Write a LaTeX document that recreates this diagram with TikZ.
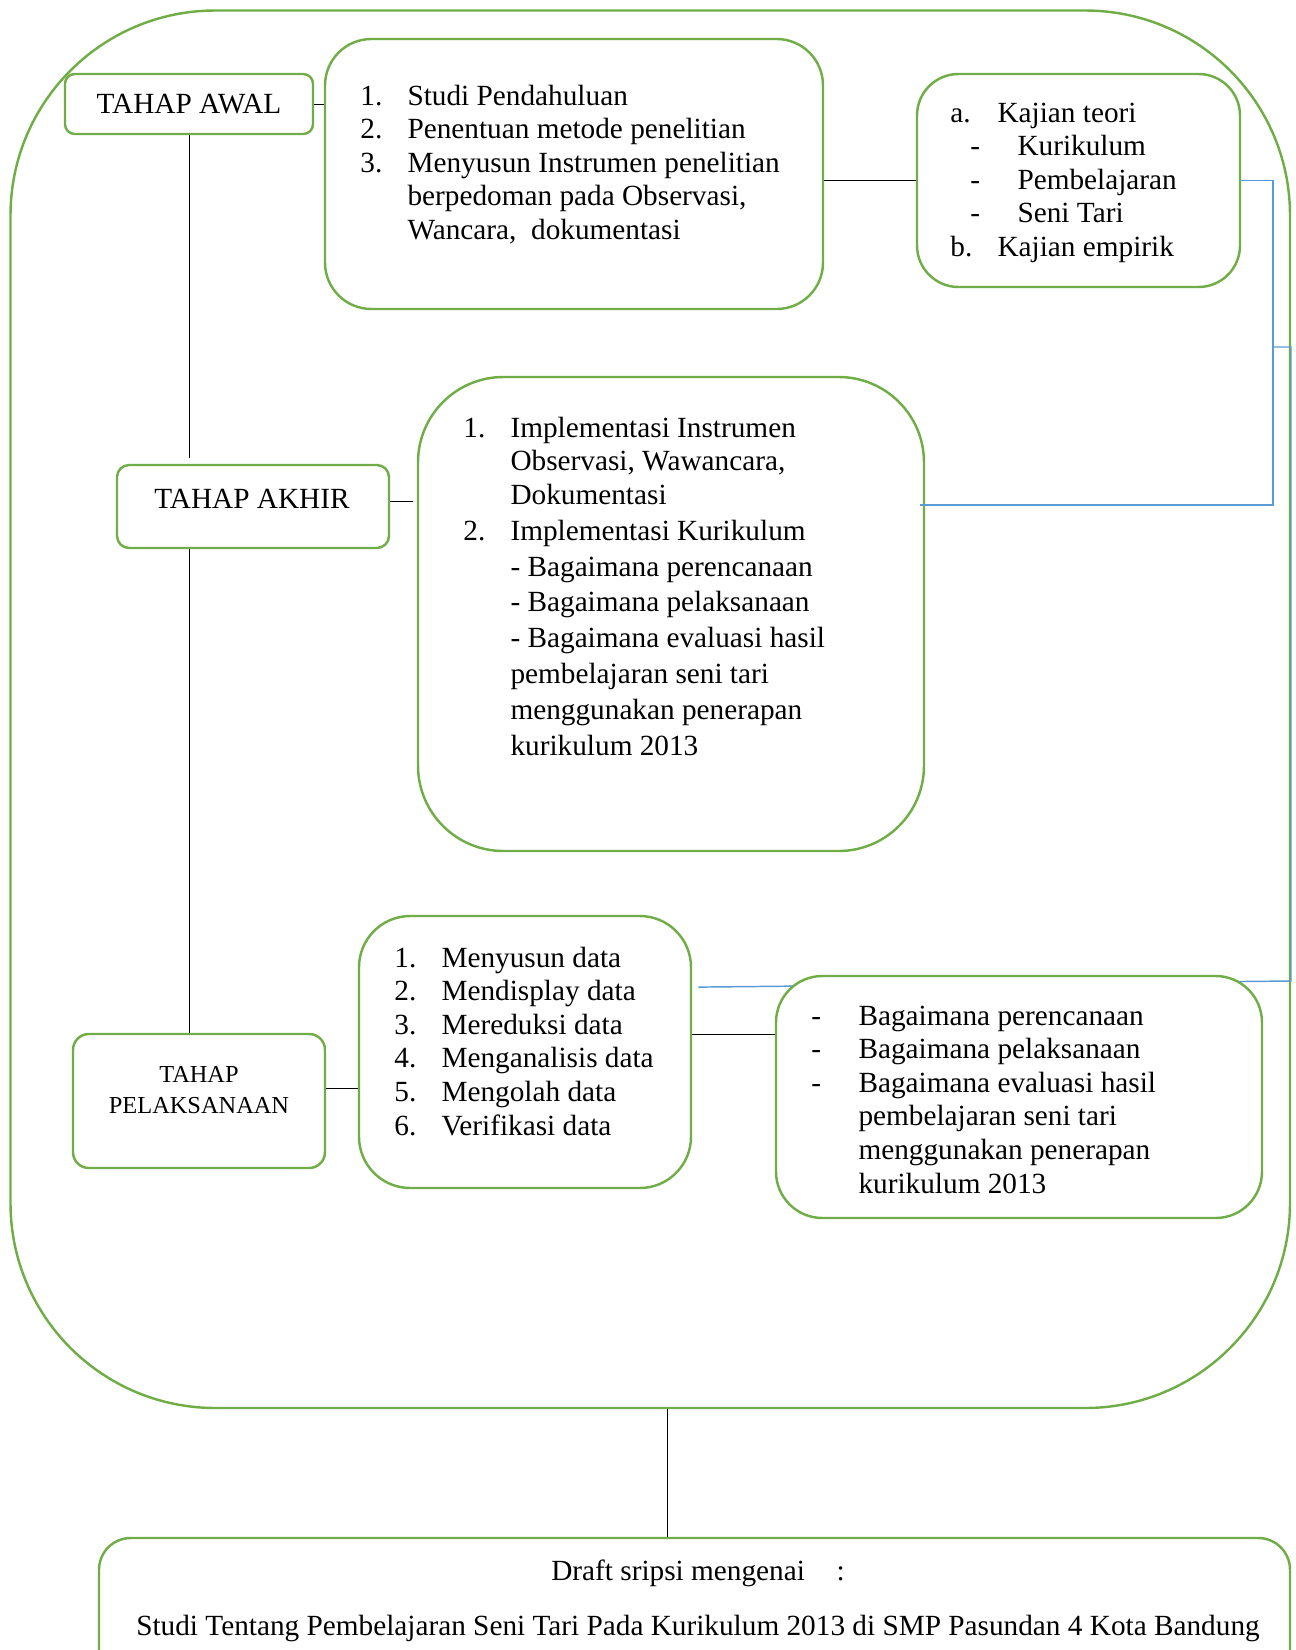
\documentclass[tikz,border=0pt]{standalone}
\usepackage{fontspec}
\setmainfont{Liberation Serif}
\usepackage{array}
\usetikzlibrary{fit}
\definecolor{hijau}{HTML}{70AD47}
\definecolor{biru}{HTML}{5B9BD5}
\newcommand{\nomor}[1]{\makebox[19.3pt][l]{#1}}

\begin{document}
\begin{tikzpicture}[x=0.41pt, y=-0.41pt,
      kotak/.style={draw=hijau, line width=1pt, fill=white, inner sep=0pt},
      isi/.style={anchor=base west, inner sep=0pt, font=\fontsize{12}{13.8}\selectfont},
      judul/.style={inner sep=0pt, font=\fontsize{12}{13.8}\selectfont},
      hubung/.style={draw=biru, line width=0.6pt},
      garis/.style={draw=black, line width=0.4pt}]
      \useasboundingbox (0,0) rectangle (1296,1650);
      \clip (0,0) rectangle (1296,1650);
      \node[kotak, fill=none, rounded corners=84pt, fit={(10.5,10.5) (1290,1408)}] (luar) {};
      % kotak-kotak tahap
      \node[kotak, rounded corners=4pt, fit={(65,74) (313,134)}] (awal) {};
      \node[kotak, rounded corners=5pt, fit={(117,465) (389,548)}] (akhir) {};
      \node[kotak, rounded corners=6.5pt, fit={(73,1034) (325,1168)}] (pelaksanaan) {};
      \node[kotak, rounded corners=19pt, fit={(325,39) (823,309)}] (studi) {};
      \node[kotak, rounded corners=17pt, fit={(917,74) (1240,287)}] (kajian) {};
      \node[kotak, rounded corners=35pt, fit={(418,377) (924,851)}] (impl) {};
      \node[kotak, rounded corners=21pt, fit={(359,916) (691,1188)}] (data) {};
      \coordinate (j1) at (1273,505);
      \coordinate (j2) at (1273,347);
      \coordinate (j3) at (1291,981);
      \draw[hubung] (kajian.east) -| (j1) -- ([xshift=-2pt]j1 -| impl.east);
      \draw[hubung] (j2) -| (j3) -- ([xshift=2.5pt, yshift=-2.5pt]data.east |- j3);
      \node[kotak, rounded corners=19pt, fit={(776,976) (1262,1218)}] (tanya) {};
      \node[kotak, rounded corners=13pt, fit={(99,1538) (1290,1720)}] (draft) {};
      % penghubung
      \draw[garis] (awal.east) -- (awal.east -| studi.west);
      \draw[garis] (kajian.west -| studi.east) -- (kajian.west);
      \draw[garis] (awal.south) -- ([yshift=2.5pt]awal.south |- akhir.north);
      \draw[garis] (akhir.south -| awal.south) -- (pelaksanaan.north -| awal.south);
      \draw[garis, shorten >=1.5pt] ([yshift=2pt]akhir.east) -- ([yshift=2pt]akhir.east -| impl.west);
      \draw[garis] ([yshift=5pt]pelaksanaan.east) -- ([yshift=5pt]pelaksanaan.east -| data.west);
      \draw[garis] ([yshift=7pt]data.east) -- ([yshift=7pt]data.east -| tanya.west);
      \draw[garis] ([xshift=7pt]luar.south) -- ([xshift=7pt]luar.south |- draft.north);
      % teks
      \node[judul] (tawal) at (189,104) {TAHAP AWAL};
      \node[judul] (takhir) at (252,499) {TAHAP AKHIR};
      \node[judul, align=center, font=\fontsize{10}{12.7}\selectfont] (tpelaksanaan) at (199,1090) {TAHAP\\PELAKSANAAN};
      \node[isi] (tstudi) at (360,105) {\begin{tabular}[t]{@{}l@{}}
        \nomor{1.}Studi Pendahuluan\\
        \nomor{2.}Penentuan metode penelitian\\
        \nomor{3.}Menyusun Instrumen penelitian\\
        \nomor{}berpedoman pada Observasi,\\
        \nomor{}Wancara,\ \ dokumentasi
      \end{tabular}};
      \node[isi] (tkajian) at (950,122) {\begin{tabular}[t]{@{}l@{}}
        \nomor{a.}Kajian teori\\
        \hspace{8.2pt}\nomor{-}Kurikulum\\
        \hspace{8.2pt}\nomor{-}Pembelajaran\\
        \hspace{8.2pt}\nomor{-}Seni Tari\\
        \nomor{b.}Kajian empirik
      \end{tabular}};
      \node[isi] (timpl) at (463,437) {\begin{tabular}[t]{@{}l@{}}
        \nomor{1.}Implementasi Instrumen\\
        \nomor{}Observasi, Wawancara,\\
        \nomor{}Dokumentasi\\[0.9pt]
        \nomor{2.}Implementasi Kurikulum\\[0.9pt]
        \nomor{}- Bagaimana perencanaan\\[0.9pt]
        \nomor{}- Bagaimana pelaksanaan\\[0.9pt]
        \nomor{}- Bagaimana evaluasi hasil\\[0.9pt]
        \nomor{}pembelajaran seni tari\\[0.9pt]
        \nomor{}menggunakan penerapan\\[0.9pt]
        \nomor{}kurikulum 2013
      \end{tabular}};
      \node[isi] (tdata) at (394,967) {\begin{tabular}[t]{@{}l@{}}
        \nomor{1.}Menyusun data\\
        \nomor{2.}Mendisplay data\\
        \nomor{3.}Mereduksi data\\
        \nomor{4.}Menganalisis data\\
        \nomor{5.}Mengolah data\\
        \nomor{6.}Verifikasi data
      \end{tabular}};
      \node[isi] (ttanya) at (811,1025) {\begin{tabular}[t]{@{}l@{}}
        \nomor{-}Bagaimana perencanaan\\
        \nomor{-}Bagaimana pelaksanaan\\
        \nomor{-}Bagaimana evaluasi hasil\\
        \nomor{}pembelajaran seni tari\\
        \nomor{}menggunakan penerapan\\
        \nomor{}kurikulum 2013
      \end{tabular}};
      \node[judul, anchor=base] (tdraft) at (698,1580) {Draft sripsi mengenai\hspace{13pt}:};
      \node[judul, anchor=base] (tjudul) at (698,1635) {Studi Tentang Pembelajaran Seni Tari Pada Kurikulum 2013 di SMP Pasundan 4 Kota Bandung};
    \end{tikzpicture}
\end{document}
